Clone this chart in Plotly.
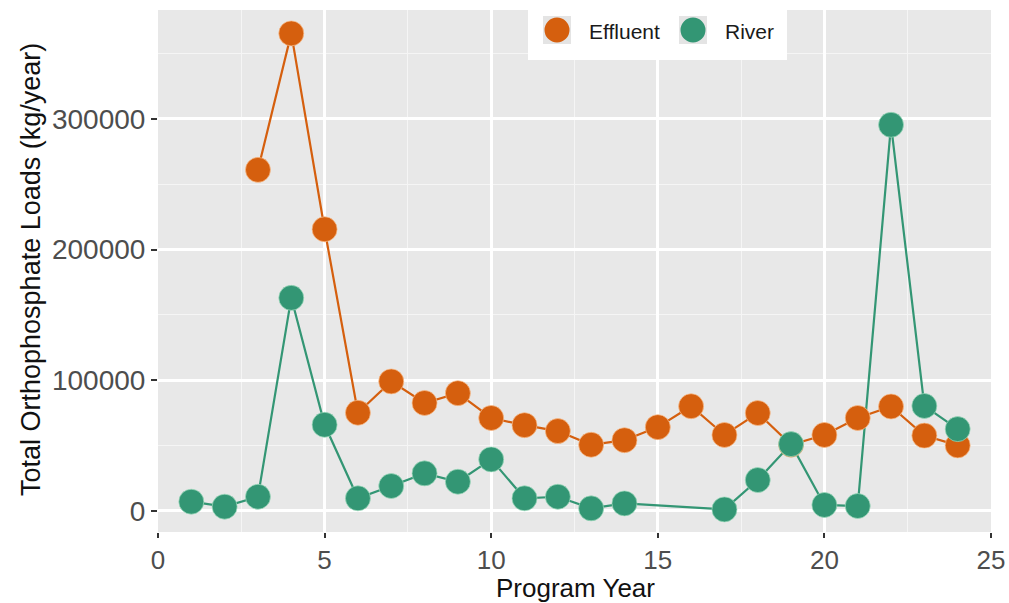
import plotly.graph_objects as go

# Program years and annual orthophosphate loads (kg/year)
effluent_years = list(range(3, 25))
effluent_loads = [261000, 365500, 215500, 75000, 99000, 82500, 90000, 71000,
                  65500, 61000, 50500, 54000, 64000, 80000, 58000, 74800,
                  50500, 58000, 71000, 79800, 57500, 50000]

river_years = [1, 2, 3, 4, 5, 6, 7, 8, 9, 10, 11, 12, 13, 14, 17, 18, 19,
               20, 21, 22, 23, 24]
river_loads = [6900, 3100, 10700, 163000, 65800, 9500, 18900, 28600, 22200,
               39300, 9500, 10700, 1800, 5600, 1000, 23500, 51000, 4400,
               3600, 295500, 80200, 62500]

x_ticks = [0, 5, 10, 15, 20, 25]
y_ticks = [0, 100000, 200000, 300000]

EFF_COLOR = "#d55f0e"
RIV_COLOR = "#339674"
PANEL_BG = "#e8e8e8"
FONT = "Liberation Sans, Arial, sans-serif"

# panel geometry in pixels (figure is 1009 x 603)
W, H = 1009, 603
L, R, T, B = 158, 18, 10, 71
PW, PH = W - L - R, H - T - B


def px_x(px):
    return (px - L) / PW


def px_y(py):
    return (H - B - py) / PH


fig = go.Figure()

series = [
    ("Effluent", effluent_years, effluent_loads, EFF_COLOR, "rgba(250,190,140,0.7)"),
    ("River", river_years, river_loads, RIV_COLOR, "rgba(160,220,190,0.7)"),
]

# connecting lines first, then the points on top
for name, xs, ys, col, edge in series:
    fig.add_trace(go.Scatter(
        x=xs, y=ys, mode="lines", name=name,
        line=dict(color=col, width=2.2), hoverinfo="skip",
    ))
for name, xs, ys, col, edge in series:
    fig.add_trace(go.Scatter(
        x=xs, y=ys, mode="markers", name=name,
        marker=dict(color=col, size=25, line=dict(color=edge, width=1)),
    ))

# legend: white box, grey key squares, point keys and labels
fig.add_shape(type="rect", xref="paper", yref="paper",
              x0=px_x(528), x1=px_x(787), y0=px_y(60), y1=px_y(10),
              fillcolor="white", line=dict(width=0), layer="above")
legend_items = [("Effluent", EFF_COLOR, 557, 587), ("River", RIV_COLOR, 693, 723)]
for label, col, cx, tx in legend_items:
    fig.add_shape(type="rect", xref="paper", yref="paper",
                  x0=px_x(cx - 14), x1=px_x(cx + 14),
                  y0=px_y(44), y1=px_y(16),
                  fillcolor="#e4e4e4", line=dict(width=0), layer="above")
    fig.add_shape(type="circle", xref="paper", yref="paper",
                  x0=px_x(cx - 12.5), x1=px_x(cx + 12.5),
                  y0=px_y(42.5), y1=px_y(17.5),
                  fillcolor=col, line=dict(width=0), layer="above")
    fig.add_annotation(text=label, xref="paper", yref="paper",
                       x=px_x(tx), y=px_y(31), xanchor="left", yanchor="middle",
                       showarrow=False,
                       font=dict(size=21, color="#1a1a1a", family=FONT))

# axis titles
fig.add_annotation(text="Program Year", xref="paper", yref="paper",
                   x=px_x(575), y=px_y(588), xanchor="center", yanchor="middle",
                   showarrow=False, font=dict(size=26, color="#111111", family=FONT))
fig.add_annotation(text="Total Orthophosphate Loads (kg/year)", xref="paper",
                   yref="paper", x=px_x(31), y=px_y(270), xanchor="center",
                   yanchor="middle", textangle=-90, showarrow=False,
                   font=dict(size=27, color="#111111", family=FONT))

grid_minor = dict(showgrid=True, gridcolor="#f5f5f5", gridwidth=1.2)

fig.update_layout(
    width=W, height=H,
    margin=dict(l=L, r=R, t=T, b=B),
    paper_bgcolor="white",
    plot_bgcolor=PANEL_BG,
    font=dict(family=FONT, color="#4d4d4d"),
    showlegend=False,
    xaxis=dict(
        range=[0, 25],
        tickvals=x_ticks,
        ticks="outside", ticklen=5, tickwidth=2, tickcolor="#333333",
        tickfont=dict(size=26, color="#4d4d4d"),
        showgrid=True, gridcolor="white", gridwidth=2.5,
        minor=dict(dtick=2.5, tick0=0, **grid_minor),
        zeroline=False, showline=False, automargin=False,
    ),
    yaxis=dict(
        range=[-16300, 383400],
        tickvals=y_ticks,
        ticktext=[str(v) for v in y_ticks],
        ticks="outside", ticklen=6, tickwidth=2, tickcolor="#333333",
        tickfont=dict(size=28, color="#4d4d4d"),
        showgrid=True, gridcolor="white", gridwidth=2.5,
        minor=dict(dtick=50000, tick0=0, **grid_minor),
        zeroline=False, showline=False, automargin=False,
    ),
)

fig.write_html("out.html")
